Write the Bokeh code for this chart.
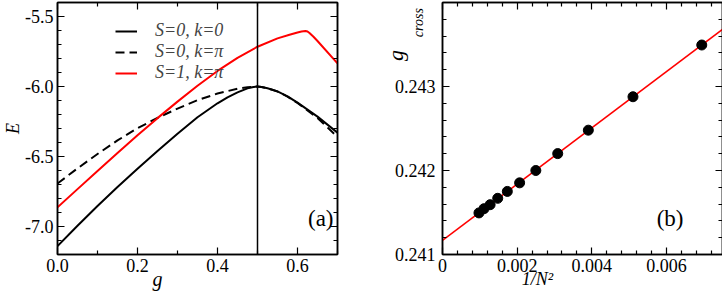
import numpy as np
from bokeh.plotting import figure
from bokeh.layouts import row
from bokeh.models import (FixedTicker, PrintfTickFormatter, CustomJSTickFormatter,
                          LinearAxis, Range1d, Span, Label, Legend, LegendItem)
from bokeh.embed import file_html
from bokeh.resources import INLINE

# ---------------- data: panel (a) ----------------
g_s0k0 = [0.0, 0.05, 0.1, 0.15, 0.2, 0.25, 0.3, 0.35, 0.4, 0.425, 0.45, 0.475, 0.49, 0.5,
          0.51, 0.525, 0.55, 0.575, 0.6, 0.65, 0.7]
E_s0k0 = [-7.14, -6.995, -6.854, -6.718, -6.587, -6.46, -6.337, -6.22, -6.12, -6.077, -6.042,
          -6.013, -6.003, -6.0, -6.003, -6.013, -6.035, -6.07, -6.115, -6.215, -6.33]

g_s0kpi = [0.0, 0.05, 0.1, 0.15, 0.2, 0.25, 0.3, 0.35, 0.4, 0.45, 0.475, 0.5,
           0.51, 0.525, 0.55, 0.575, 0.6, 0.65, 0.7]
E_s0kpi = [-6.693, -6.585, -6.482, -6.385, -6.298, -6.224, -6.158, -6.098, -6.05, -6.016, -6.006, -6.0,
           -6.003, -6.013, -6.036, -6.072, -6.118, -6.225, -6.36]

g_s1kpi = [0.0, 0.05, 0.1, 0.15, 0.2, 0.25, 0.3, 0.35, 0.4, 0.45, 0.5, 0.55, 0.58, 0.6,
           0.61, 0.62, 0.625, 0.63, 0.64, 0.65, 0.7]
E_s1kpi = [-6.863, -6.733, -6.603, -6.475, -6.349, -6.226, -6.108, -5.995, -5.889, -5.795, -5.716,
           -5.656, -5.63, -5.614, -5.607, -5.603, -5.607, -5.618, -5.645, -5.675, -5.835]

g_critical = 0.5
legend_labels = ["S=0, k=0", "S=0, k=\u03c0", "S=1, k=\u03c0"]

a_xticks = [0.0, 0.2, 0.4, 0.6]
a_xminor = [0.1, 0.3, 0.5, 0.7]
a_yticks = [-7.0, -6.5, -6.0, -5.5]
a_yminor = [-7.1, -6.9, -6.8, -6.7, -6.6, -6.4, -6.3, -6.2, -6.1, -5.9, -5.8, -5.7, -5.6, -5.4]

# ---------------- data: panel (b) ----------------
N_sizes = [12, 14, 16, 18, 20, 22, 24, 26, 28, 30, 32]
g_cross = [0.243494, 0.242878, 0.24248, 0.242201, 0.242000, 0.241853, 0.241751,
           0.241669, 0.241593, 0.241545, 0.241495]
b_xticks = [0.0, 0.002, 0.004, 0.006]
b_xminor = [0.0004, 0.0008, 0.0012, 0.0016, 0.0024, 0.0028, 0.0032, 0.0036,
            0.0044, 0.0048, 0.0052, 0.0056, 0.0064, 0.0068, 0.0072]
b_yticks = [0.241, 0.242, 0.243]
b_yminor = [0.2412, 0.2414, 0.2416, 0.2418, 0.2422, 0.2424, 0.2426, 0.2428,
            0.2432, 0.2434, 0.2436, 0.2438]

FONT = "Liberation Serif"
FH = 252
EM = "\u2003"
BLANK = "return ''"
# where the two parts of the panel (b) y label sit along that axis
YLAB_MAIN_AT = 0.24337
YLAB_SUB_AT = 0.24376


def style_axis(ax, labels=True, ticks=True):
    ax.axis_line_color = "black" if ticks else None
    ax.axis_line_width = 1.5
    ax.major_tick_in = 7 if ticks else 0
    ax.major_tick_out = 0
    ax.minor_tick_in = 4 if ticks else 0
    ax.minor_tick_out = 0
    ax.major_tick_line_color = "black" if ticks else None
    ax.minor_tick_line_color = "black" if ticks else None
    ax.major_tick_line_width = 1.2
    ax.minor_tick_line_width = 1.2
    ax.major_label_text_font = FONT
    ax.major_label_text_color = "black"
    ax.axis_label_text_font = FONT
    ax.axis_label_text_font_style = "italic"
    ax.axis_label_text_color = "black"
    if labels:
        ax.major_label_text_font_size = "18px"
        ax.major_label_standoff = 4
    else:
        ax.major_label_text_font_size = "0px"
        ax.major_label_standoff = 0


def make_fig(xr, yr, fw, left, right):
    p = figure(frame_width=fw, frame_height=FH, x_range=xr, y_range=yr,
               output_backend="svg", toolbar_location=None,
               x_axis_location=None, y_axis_location=None,
               min_border_left=left, min_border_right=right,
               min_border_top=2, min_border_bottom=45)
    p.grid.visible = False
    p.outline_line_color = "black"
    p.outline_line_width = 1.5
    p.background_fill_color = "white"
    p.border_fill_color = "white"
    return p


def mirror(p, xt, xm, yt, ym):
    top = LinearAxis(ticker=FixedTicker(ticks=xt, minor_ticks=xm),
                     formatter=CustomJSTickFormatter(code=BLANK))
    rgt = LinearAxis(ticker=FixedTicker(ticks=yt, minor_ticks=ym),
                     formatter=CustomJSTickFormatter(code=BLANK))
    style_axis(top, labels=False)
    style_axis(rgt, labels=False)
    p.add_layout(top, "above")
    p.add_layout(rgt, "right")


# ---------------- panel (a) ----------------
FW_A = 280
pa = make_fig(Range1d(0, 0.7), Range1d(-7.2, -5.4), FW_A, 54, 26)

ax_ab = LinearAxis(ticker=FixedTicker(ticks=a_xticks, minor_ticks=a_xminor),
                   formatter=PrintfTickFormatter(format="%.1f"),
                   axis_label="g" + EM * 4)
style_axis(ax_ab)
ax_ab.axis_label_text_font_size = "20px"
ax_ab.axis_label_standoff = -7
pa.add_layout(ax_ab, "below")

ax_al = LinearAxis(ticker=FixedTicker(ticks=a_yticks, minor_ticks=a_yminor),
                   formatter=PrintfTickFormatter(format="%.1f"),
                   axis_label="E")
style_axis(ax_al)
ax_al.axis_label_text_font_size = "18px"
ax_al.axis_label_standoff = -1
pa.add_layout(ax_al, "left")
mirror(pa, a_xticks, a_xminor, a_yticks, a_yminor)

r1 = pa.line(g_s0k0, E_s0k0, line_color="black", line_width=2)
r2 = pa.line(g_s0kpi, E_s0kpi, line_color="black", line_width=2, line_dash="9 5")
r3 = pa.line(g_s1kpi, E_s1kpi, line_color="red", line_width=2)
pa.add_layout(Span(location=g_critical, dimension="height", line_color="black", line_width=1.5))

leg = Legend(items=[LegendItem(label=legend_labels[0], renderers=[r1]),
                    LegendItem(label=legend_labels[1], renderers=[r2]),
                    LegendItem(label=legend_labels[2], renderers=[r3])],
             location=(58, FH - 13 - 60 - 8), orientation="vertical")
leg.border_line_color = None
leg.background_fill_alpha = 0
leg.label_text_font = FONT
leg.label_text_font_style = "italic"
leg.label_text_font_size = "18px"
leg.glyph_width = 22
leg.glyph_height = 20
leg.label_height = 20
leg.label_standoff = 18
leg.spacing = 0
leg.padding = 0
leg.margin = 0
pa.add_layout(leg, "center")

pa.add_layout(Label(x=FW_A - 4, y=36, x_units="screen", y_units="screen", text="(a)",
                    text_font=FONT, text_font_size="23px", text_align="right",
                    text_baseline="alphabetic", text_color="black"))

# ---------------- panel (b) ----------------
FW_B = 280
pb = make_fig(Range1d(0, 0.0075), Range1d(0.241, 0.244), FW_B, 79, 1)

ax_bb = LinearAxis(ticker=FixedTicker(ticks=b_xticks, minor_ticks=b_xminor),
                   formatter=CustomJSTickFormatter(code="return tick == 0 ? '0' : tick.toFixed(3);"),
                   axis_label="1/N\u00b2" + EM * 5)
style_axis(ax_bb)
ax_bb.axis_label_text_font_size = "18px"
ax_bb.axis_label_standoff = -6
pb.add_layout(ax_bb, "below")

# 1) tick marks only
ax_t = LinearAxis(ticker=FixedTicker(ticks=b_yticks, minor_ticks=b_yminor),
                  formatter=CustomJSTickFormatter(code=BLANK))
style_axis(ax_t, labels=False)
pb.add_layout(ax_t, "left")

# 2) subscript part of the y label
ax_sub = LinearAxis(ticker=FixedTicker(ticks=[YLAB_SUB_AT], minor_ticks=[]),
                    formatter=CustomJSTickFormatter(code="return 'cross';"),
                    major_label_orientation="vertical")
style_axis(ax_sub, ticks=False)
ax_sub.major_label_text_font_size = "14px"
ax_sub.major_label_text_font_style = "italic"
ax_sub.major_label_standoff = 16
pb.add_layout(ax_sub, "left")

# 3) numeric tick labels
ax_num = LinearAxis(ticker=FixedTicker(ticks=b_yticks, minor_ticks=[]),
                    formatter=PrintfTickFormatter(format="%.3f"))
style_axis(ax_num, ticks=False)
ax_num.major_label_standoff = -27
pb.add_layout(ax_num, "left")

# 4) main letter of the y label
ax_main = LinearAxis(ticker=FixedTicker(ticks=[YLAB_MAIN_AT], minor_ticks=[]),
                     formatter=CustomJSTickFormatter(code="return 'g';"),
                     major_label_orientation="vertical")
style_axis(ax_main, ticks=False)
ax_main.major_label_text_font_size = "22px"
ax_main.major_label_text_font_style = "italic"
ax_main.major_label_standoff = -17
pb.add_layout(ax_main, "left")

mirror(pb, b_xticks, b_xminor, b_yticks, b_yminor)

inv_N2 = [1.0 / n ** 2 for n in N_sizes]
slope, intercept = np.polyfit(inv_N2, g_cross, 1)
fit_x = [pb.x_range.start, pb.x_range.end]
fit_y = [intercept + slope * x for x in fit_x]
pb.line(fit_x, fit_y, line_color="red", line_width=1.5)
pb.scatter(inv_N2, g_cross, size=10, fill_color="black", line_color="black")

pb.add_layout(Label(x=FW_B - 39, y=36, x_units="screen", y_units="screen", text="(b)",
                    text_font=FONT, text_font_size="23px", text_align="right",
                    text_baseline="alphabetic", text_color="black"))

layout = row(pa, pb)
open("out.html", "w").write(file_html(layout, INLINE))
